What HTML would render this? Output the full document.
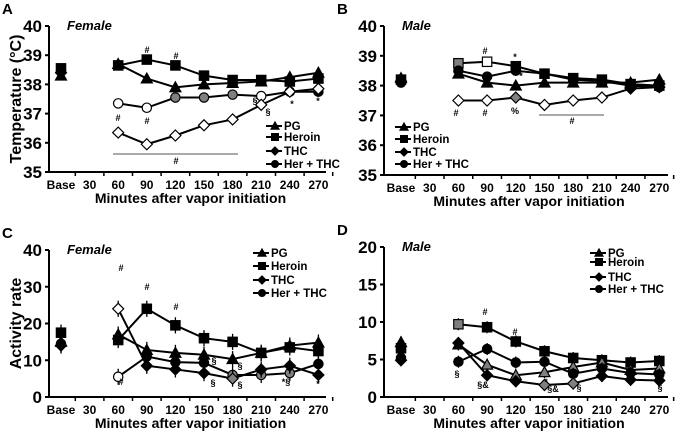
<!DOCTYPE html>
<html><head><meta charset="utf-8">
<style>
html,body{margin:0;padding:0;background:#fff;}
svg{display:block;font-family:"Liberation Sans",Arial,sans-serif;font-weight:bold;}
</style></head>
<body>
<svg id="fig" width="676" height="431" viewBox="0 0 676 431" xmlns="http://www.w3.org/2000/svg"></svg>
<script>
const categories = ["Base","30","60","90","120","150","180","210","240","270"];
const seriesNames = ["PG","Heroin","THC","Her + THC"];
// Panel A: female temperature
const aPG     = [38.3,null,38.7,38.2,37.9,38.0,38.05,38.1,38.25,38.4];
const aHeroin = [38.55,null,38.65,38.85,38.65,38.3,38.15,38.15,38.1,38.2];
const aTHC    = [38.4,null,36.35,35.95,36.25,36.6,36.8,37.3,37.75,37.85];
const aHerTHC = [38.45,null,37.35,37.2,37.55,37.55,37.65,37.6,37.75,37.75];
// Panel B: male temperature
const bPG     = [38.25,null,38.4,38.1,38.0,38.1,38.1,38.1,38.1,38.2];
const bHeroin = [38.2,null,38.75,38.8,38.65,38.4,38.25,38.2,38.05,38.0];
const bTHC    = [38.15,null,37.5,37.5,37.6,37.35,37.5,37.6,37.9,37.95];
const bHerTHC = [38.1,null,38.5,38.3,38.5,38.4,38.2,38.15,38.0,37.95];
// Panel C: female activity
const cPG     = [15,null,17,12.8,12,11.5,10.3,12,14,14.8];
const cHeroin = [17.5,null,15.5,24,19.5,16,15,12,13.5,12.5];
const cTHC    = [14,null,24,8.5,7.5,6.5,5,7.5,8.5,6];
const cHerTHC = [14.5,null,5.5,11,9.5,9.3,6,6,6.5,9];
// Panel D: male activity
const dPG     = [7.3,null,7,4.3,2.9,3.3,4.0,4.6,3.6,3.8];
const dHeroin = [6.5,null,9.7,9.3,7.4,6.1,5.2,4.9,4.6,4.8];
const dTHC    = [4.9,null,7.2,2.9,2.1,1.6,1.8,2.8,2.3,2.2];
const dHerTHC = [5.2,null,4.7,6.4,4.6,4.7,3.1,3.8,3.2,3.0];
const tempTicks = [35,36,37,38,39,40];
const actTicksC = [0,10,20,30,40];
const actTicksD = [0,5,10,15,20];

const NS="http://www.w3.org/2000/svg";
const svg=document.getElementById('fig');
function el(tag,attrs,parent){const e=document.createElementNS(NS,tag);for(const k in attrs)e.setAttribute(k,attrs[k]);(parent||svg).appendChild(e);return e;}
function txt(s,attrs,parent){const e=el('text',attrs,parent);e.textContent=s;return e;}

const panels=[
 {id:'a',letter:'A',sex:'Female',x0:49,x1:326,yTop:26,yBot:172,min:35,max:40,ticks:tempTicks,ylab:'Temperature (°C)',
  bx:61,step:28.6,data:[aPG,aHeroin,aTHC,aHerTHC],err:0.15,
  fills:[null,null,['k',0,'w','w','w','w','w','w','w','w'],['k',0,'w','w','g','g','g','w','k','k']],
  leg:{x:266,ys:[126,137,151,164]}},
 {id:'b',letter:'B',sex:'Male',x0:384,x1:668,yTop:26,yBot:175,min:35,max:40,ticks:tempTicks,ylab:null,
  bx:401,step:28.7,data:[bPG,bHeroin,bTHC,bHerTHC],err:0.15,
  fills:[null,['k',0,'g','w','k','k','k','k','k','k'],['k',0,'w','w','g','w','w','w','k','k'],null],
  leg:{x:395,ys:[127,139,152,164]}},
 {id:'c',letter:'C',sex:'Female',x0:49,x1:326,yTop:250,yBot:397,min:0,max:40,ticks:actTicksC,ylab:'Activity rate',
  bx:61,step:28.6,data:[cPG,cHeroin,cTHC,cHerTHC],err:2.2,
  fills:[null,null,['k',0,'w','k','k','k','g','k','k','k'],['k',0,'w','k','k','k','g','g','g','k']],
  leg:{x:253,ys:[253,266,280,293]}},
 {id:'d',letter:'D',sex:'Male',x0:384,x1:668,yTop:247,yBot:397,min:0,max:20,ticks:actTicksD,ylab:null,
  bx:401,step:28.7,data:[dPG,dHeroin,dTHC,dHerTHC],err:0.8,
  fills:[['k',0,'k','g','g','g','g','g','g','g'],['k',0,'g','k','k','k','k','k','k','k'],['k',0,'k','k','k','g','g','k','k','k'],null],
  leg:{x:590,ys:[253,262,277,289]}}
];
const colors={k:'#000',w:'#fff',g:'#808080'};

function marker(g,type,x,y,fill,s){
  const f=colors[fill]||'#000';
  const a={fill:f,stroke:'#000','stroke-width':1.2};
  let m;
  if(type===0){m=el('polygon',Object.assign({points:`${x},${y-s} ${x-s},${y+s*0.8} ${x+s},${y+s*0.8}`},a),g);}
  else if(type===1){m=el('rect',Object.assign({x:x-s*0.85,y:y-s*0.85,width:s*1.7,height:s*1.7},a),g);}
  else if(type===2){m=el('polygon',Object.assign({points:`${x},${y-s} ${x+s},${y} ${x},${y+s} ${x-s},${y}`},a),g);}
  else {m=el('circle',Object.assign({cx:x,cy:y,r:s*0.85},a),g);}
  return m;
}

panels.forEach(p=>{
  const g=el('g',{});
  
  
  const yS=v=>p.yBot-(v-p.min)/(p.max-p.min)*(p.yBot-p.yTop);
  const xS=i=>p.bx+i*p.step;
  const lt=txt(p.letter,{x:p.x0-47,y:p.yTop-12,'font-size':15},g);
  
  const st=txt(p.sex,{x:p.x0+18,y:p.yTop+4,'font-size':13,'font-style':'italic'},g);
  
  const ya=el('line',{x1:p.x0,y1:p.yTop,x2:p.x0,y2:p.yBot,stroke:'#000','stroke-width':2},g);
  
  const xa=el('line',{x1:p.x0,y1:p.yBot,x2:p.x1,y2:p.yBot,stroke:'#000','stroke-width':2},g);
  
  p.ticks.forEach(t=>{
    el('line',{x1:p.x0-4,y1:yS(t),x2:p.x0,y2:yS(t),stroke:'#000','stroke-width':2},g);
    const tl=txt(String(t),{x:p.x0-7,y:yS(t)+6,'font-size':17,'text-anchor':'end'},g);
    
  });
  categories.forEach((c,i)=>{
    el('line',{x1:xS(i)+p.step/2,y1:p.yBot,x2:xS(i)+p.step/2,y2:p.yBot+4,stroke:'#000','stroke-width':1.5},g);
    const cl=txt(c,{x:xS(i),y:p.yBot+17,'font-size':12,'text-anchor':'middle'},g);
    
  });
  const xt=txt('Minutes after vapor initiation',{x:(p.x0+p.x1)/2+3,y:p.yBot+31,'font-size':14,'text-anchor':'middle'},g);
  
  if(p.ylab){
    const cy=(p.yTop+p.yBot)/2;
    const yt=txt(p.ylab,{x:16,y:cy,'font-size':16,'text-anchor':'middle',transform:`rotate(-90 16 ${cy})`},g);
    
    yt.setAttribute('dy','5');
  }
  const order=[1,0,3,2];
  order.forEach(si=>{
    const vals=p.data[si];
    const sg=el('g',{},g);
    
    
    let d='';
    vals.forEach((v,i)=>{ if(v==null||i<2) return; d+=(d?'L':'M')+xS(i)+','+yS(v); });
    const ln=el('path',{d:d,fill:'none',stroke:'#000','stroke-width':2},sg);
    
    vals.forEach((v,i)=>{
      if(v==null) return;
      const h=yS(p.min)-yS(p.min+p.err);
      const e=el('line',{x1:xS(i),y1:yS(v)-h,x2:xS(i),y2:yS(v)+h,stroke:'#000','stroke-width':1.3},sg);
      
      const fill=p.fills[si]?p.fills[si][i]:'k';
      const m=marker(sg,si,xS(i),yS(v),fill,5.5);
      
    });
  });
  const lg=el('g',{},g);
  
  seriesNames.forEach((n,si)=>{
    const y=p.leg.ys[si];
    const eg=el('g',{},lg);
    
    el('line',{x1:p.leg.x,y1:y,x2:p.leg.x+16,y2:y,stroke:'#000','stroke-width':2},eg);
    marker(eg,si,p.leg.x+9,y,'k',4);
    txt(n,{x:p.leg.x+18,y:y+4,'font-size':11.5},eg);
  });
});

const notes=[
 [147,53,'#'],[176,59,'#'],[118,121,'#'],[147,124,'#'],[255,104,'§'],[268,115,'§'],[292,107,'*'],[318,104,'*'],[176,164,'#'],
 [485,54,'#'],[515,60,'*'],[521,79,'*'],[456,116,'#'],[485,116,'#'],[515,114,'%'],[572,124,'#'],
 [121,271,'#'],[147,290,'#'],[176,310,'#'],[121,385,'#'],[214,364,'§'],[213,386,'§'],[240,369,'§'],[240,388,'§'],[286,385,'*§'],[318,387,'*'],
 [457,377,'§'],[483,388,'§&'],[546,385,'*'],[485,315,'#'],[515,335,'#'],[553,392,'§&'],[579,391,'§'],[660,391,'§']
];
notes.forEach(n=>{
  const t=txt(n[2],{x:n[0],y:n[1],'font-size':9,'text-anchor':'middle'});
  
});
const b1=el('line',{x1:113,y1:154,x2:238,y2:154,stroke:'#555','stroke-width':1});

const b2=el('line',{x1:539,y1:115,x2:604,y2:115,stroke:'#555','stroke-width':1});

</script>
</body></html>
